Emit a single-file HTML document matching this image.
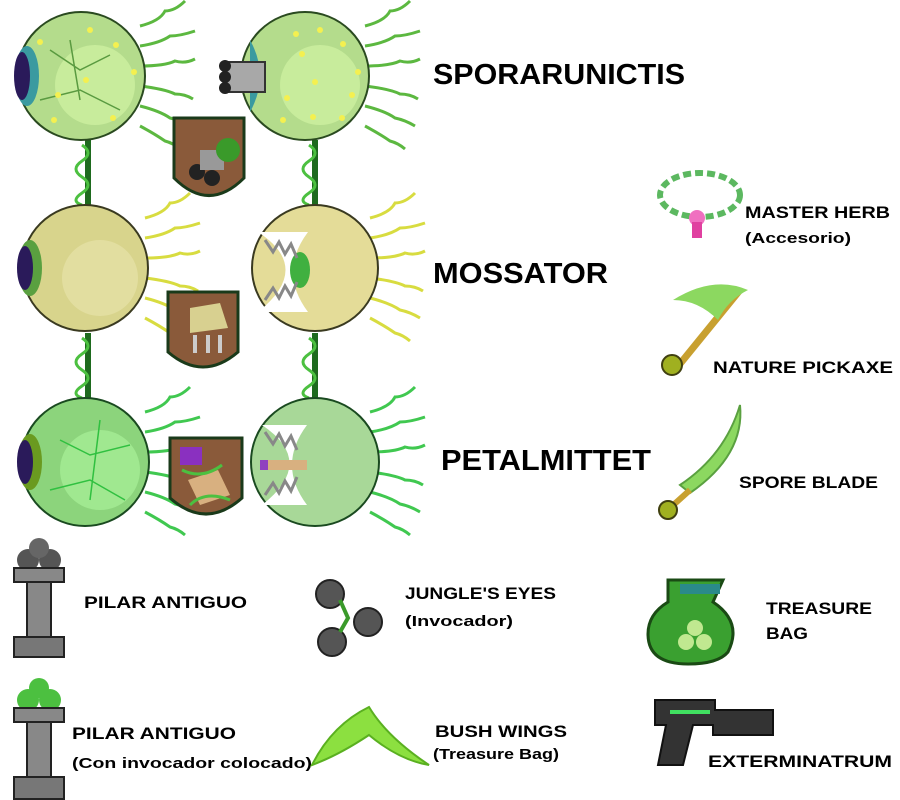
<!DOCTYPE html>
<html><head><meta charset="utf-8"><style>
body{margin:0;background:#fff;}
svg{display:block}
text{font-family:"Liberation Sans",sans-serif;font-weight:bold;fill:#000}
</style></head><body>
<svg width="900" height="800" viewBox="0 0 900 800" xmlns="http://www.w3.org/2000/svg">
<defs>
<g id="tend">
<path d="M0 -50 q20 -5 25 -15 q10 0 20 -10 M0 -30 q20 -3 30 -10 q10 0 25 -5 M0 -10 q25 0 35 -5 q10 3 20 -2 M0 10 q25 3 35 8 q10 0 18 5 M0 30 q20 5 30 12 q10 2 20 8 M0 50 q15 8 25 15 q8 2 15 8" fill="none" stroke-width="3"/>
</g>
<g id="vine"><rect x="-3" y="0" width="6" height="65" fill="#1e6a1e"/><path d="M-6 5 q12 8 0 16 q-12 8 0 16 q12 8 0 16 q-12 8 0 12" stroke="#4cc040" stroke-width="3" fill="none"/></g>
</defs>

<use href="#vine" x="88" y="140"/><use href="#vine" x="315" y="140"/>
<use href="#vine" x="88" y="333"/><use href="#vine" x="315" y="333"/>

<!-- row1 -->
<use href="#tend" x="140" y="76" stroke="#5cb840"/>
<circle cx="81" cy="76" r="64" fill="#b4dc8c" stroke="#2a4a20" stroke-width="2"/>
<circle cx="95" cy="85" r="40" fill="#c8ec9c"/>
<ellipse cx="27" cy="76" rx="12" ry="30" fill="#3a9aa0"/><ellipse cx="22" cy="76" rx="8" ry="24" fill="#2a1a5a"/>
<path d="M50 50 l30 20 l30 -15 M40 100 l40 -10 l40 20 M70 40 l10 60" stroke="#5a9a40" stroke-width="1.5" fill="none"/>
<use href="#tend" x="365" y="76" stroke="#5cb840"/>
<circle cx="305" cy="76" r="64" fill="#b4dc8c" stroke="#2a4a20" stroke-width="2"/>
<circle cx="320" cy="85" r="40" fill="#c8ec9c"/>
<path d="M250 40 q20 36 0 72 z" fill="#3a9aa0"/>
<rect x="225" y="62" width="40" height="30" fill="#a8a8a8" stroke="#333" stroke-width="2"/>
<circle cx="225" cy="66" r="6" fill="#222"/><circle cx="225" cy="77" r="6" fill="#222"/><circle cx="225" cy="88" r="6" fill="#222"/>
<g fill="#f4f050">
<circle cx="40" cy="42" r="3"/><circle cx="90" cy="30" r="3"/><circle cx="116" cy="45" r="3"/><circle cx="86" cy="80" r="3"/><circle cx="134" cy="72" r="3"/><circle cx="58" cy="95" r="3"/><circle cx="54" cy="120" r="3"/><circle cx="113" cy="118" r="3"/>
<circle cx="296" cy="34" r="3"/><circle cx="320" cy="30" r="3"/><circle cx="343" cy="44" r="3"/><circle cx="302" cy="54" r="3"/><circle cx="315" cy="82" r="3"/><circle cx="358" cy="72" r="3"/><circle cx="287" cy="98" r="3"/><circle cx="352" cy="95" r="3"/><circle cx="283" cy="120" r="3"/><circle cx="313" cy="117" r="3"/><circle cx="342" cy="118" r="3"/>
</g>

<!-- row2 -->
<use href="#tend" x="145" y="268" stroke="#d8dc40"/>
<circle cx="85" cy="268" r="63" fill="#d8d48c" stroke="#3a3a20" stroke-width="2"/>
<circle cx="100" cy="278" r="38" fill="#e2dea0"/>
<ellipse cx="30" cy="268" rx="12" ry="28" fill="#5aa040"/><ellipse cx="25" cy="268" rx="8" ry="22" fill="#2a1a5a"/>
<use href="#tend" x="370" y="268" stroke="#d8dc40"/>
<circle cx="315" cy="268" r="63" fill="#e4dc98" stroke="#3a3a20" stroke-width="2"/>
<path d="M258 232 q55 36 0 80 l50 0 q-30 -40 0 -80 z" fill="#fff"/>
<ellipse cx="300" cy="270" rx="10" ry="18" fill="#40b040"/>
<path d="M265 240 l8 12 l6 -10 l6 12 l6 -10 l6 14 M265 300 l8 -12 l6 10 l6 -12 l6 10 l6 -14" stroke="#888" stroke-width="3" fill="none"/>

<!-- row3 -->
<use href="#tend" x="145" y="462" stroke="#40c850"/>
<circle cx="85" cy="462" r="64" fill="#8cd47c" stroke="#1a4a20" stroke-width="2"/>
<circle cx="100" cy="470" r="40" fill="#a0e890"/>
<path d="M60 440 l30 15 l40 -10 M50 490 l40 -10 l35 20 M100 420 l-10 80" stroke="#30c040" stroke-width="1.5" fill="none"/>
<ellipse cx="30" cy="462" rx="12" ry="28" fill="#6a9a20"/><ellipse cx="25" cy="462" rx="8" ry="22" fill="#2a1a5a"/>
<use href="#tend" x="370" y="462" stroke="#40c850"/>
<circle cx="315" cy="462" r="64" fill="#a8d898" stroke="#1a4a20" stroke-width="2"/>
<path d="M262 425 q55 37 0 80 l45 0 q-30 -40 0 -80 z" fill="#fff"/>
<rect x="265" y="460" width="42" height="10" fill="#d8b080"/><rect x="260" y="460" width="8" height="10" fill="#9040c0"/>
<path d="M265 432 l8 12 l6 -10 l6 12 l6 -10 l6 14 M265 495 l8 -12 l6 10 l6 -12 l6 10 l6 -14" stroke="#888" stroke-width="3" fill="none"/>

<!-- shields -->
<g stroke="#1a3a1a" stroke-width="3">
<path d="M174 118 h70 v60 q-35 35 -70 0 z" fill="#8a5a3a"/>
<path d="M168 292 h70 v60 q-35 30 -70 0 z" fill="#8a5a3a"/>
<path d="M170 438 h72 v60 q-36 32 -72 0 z" fill="#8a5a3a"/>
</g>
<circle cx="197" cy="172" r="8" fill="#222"/><circle cx="212" cy="178" r="8" fill="#222"/><rect x="200" y="150" width="24" height="20" fill="#999"/><circle cx="228" cy="150" r="12" fill="#3a9a2a"/>
<path d="M190 308 l30 -5 l8 25 l-38 5 z" fill="#d8d090"/><path d="M195 335 v18 M208 335 v18 M220 335 v18" stroke="#ccc" stroke-width="4"/>
<rect x="180" y="447" width="22" height="18" fill="#8a30c0"/><path d="M188 480 l30 -10 l12 25 l-30 10 z" fill="#d8b080"/><path d="M182 470 q20 10 40 -5 M190 505 q15 -15 40 -5" stroke="#4cc040" stroke-width="3" fill="none"/>

<text x="433" y="84" font-size="29" textLength="252" lengthAdjust="spacingAndGlyphs">SPORARUNICTIS</text>
<text x="433" y="283" font-size="29" textLength="175" lengthAdjust="spacingAndGlyphs">MOSSATOR</text>
<text x="441" y="470" font-size="29" textLength="210" lengthAdjust="spacingAndGlyphs">PETALMITTET</text>

<ellipse cx="700" cy="195" rx="40" ry="22" fill="none" stroke="#5cb860" stroke-width="6" stroke-dasharray="8 4"/>
<circle cx="697" cy="218" r="8" fill="#f070c0"/><rect x="692" y="222" width="10" height="16" fill="#e040a0"/>
<text x="745" y="218" font-size="17" textLength="145" lengthAdjust="spacingAndGlyphs">MASTER HERB</text>
<text x="745" y="243" font-size="15" textLength="106" lengthAdjust="spacingAndGlyphs">(Accesorio)</text>

<path d="M740 290 l-65 80" stroke="#c8a030" stroke-width="7"/>
<path d="M673 300 q40 -25 75 -10 q-20 10 -30 30 q-20 -20 -45 -20 z" fill="#8cd860"/>
<circle cx="672" cy="365" r="10" fill="#a0b020" stroke="#404010" stroke-width="2"/>
<text x="713" y="373" font-size="17" textLength="180" lengthAdjust="spacingAndGlyphs">NATURE PICKAXE</text>

<path d="M740 405 q5 50 -50 88 l-10 -8 q45 -30 60 -80 z" fill="#8cd860" stroke="#5aa040" stroke-width="2"/>
<path d="M690 490 l-20 18" stroke="#c8a030" stroke-width="6"/>
<circle cx="668" cy="510" r="9" fill="#a0b020" stroke="#404010" stroke-width="2"/>
<text x="739" y="488" font-size="17" textLength="139" lengthAdjust="spacingAndGlyphs">SPORE BLADE</text>

<circle cx="28" cy="560" r="11" fill="#555"/><circle cx="50" cy="560" r="11" fill="#555"/><circle cx="39" cy="548" r="10" fill="#666"/>
<rect x="14" y="568" width="50" height="14" fill="#888" stroke="#222" stroke-width="2"/>
<rect x="27" y="582" width="24" height="55" fill="#888" stroke="#222" stroke-width="2"/>
<rect x="14" y="637" width="50" height="20" fill="#777" stroke="#222" stroke-width="2"/>
<text x="84" y="608" font-size="17" textLength="163" lengthAdjust="spacingAndGlyphs">PILAR ANTIGUO</text>

<circle cx="330" cy="594" r="14" fill="#555" stroke="#222" stroke-width="2"/>
<circle cx="368" cy="622" r="14" fill="#555" stroke="#222" stroke-width="2"/>
<circle cx="332" cy="642" r="14" fill="#555" stroke="#222" stroke-width="2"/>
<path d="M340 600 l8 18 l-8 14" stroke="#3a9a2a" stroke-width="4" fill="none"/>
<text x="405" y="599" font-size="17" textLength="151" lengthAdjust="spacingAndGlyphs">JUNGLE'S EYES</text>
<text x="405" y="626" font-size="15" textLength="108" lengthAdjust="spacingAndGlyphs">(Invocador)</text>

<path d="M668 580 h55 l-10 22 q30 20 15 50 q-10 12 -40 12 q-40 0 -40 -30 q0 -20 20 -32 z" fill="#3aa030" stroke="#1a4a14" stroke-width="3"/>
<rect x="680" y="584" width="40" height="10" fill="#2a8a8a"/>
<circle cx="686" cy="642" r="8" fill="#c0e890"/><circle cx="704" cy="642" r="8" fill="#c0e890"/><circle cx="695" cy="628" r="8" fill="#c0e890"/>
<text x="766" y="614" font-size="17" textLength="106" lengthAdjust="spacingAndGlyphs">TREASURE</text>
<text x="766" y="639" font-size="17" textLength="42" lengthAdjust="spacingAndGlyphs">BAG</text>

<circle cx="28" cy="700" r="11" fill="#4cc040"/><circle cx="50" cy="700" r="11" fill="#4cc040"/><circle cx="39" cy="688" r="10" fill="#4cc040"/>
<rect x="14" y="708" width="50" height="14" fill="#888" stroke="#222" stroke-width="2"/>
<rect x="27" y="722" width="24" height="55" fill="#888" stroke="#222" stroke-width="2"/>
<rect x="14" y="777" width="50" height="22" fill="#777" stroke="#222" stroke-width="2"/>
<text x="72" y="739" font-size="17" textLength="164" lengthAdjust="spacingAndGlyphs">PILAR ANTIGUO</text>
<text x="72" y="768" font-size="15" textLength="240" lengthAdjust="spacingAndGlyphs">(Con invocador colocado)</text>

<path d="M312 765 q20 -40 57 -58 q18 30 60 58 q-30 -5 -60 -30 q-30 20 -57 30 z" fill="#8ce040" stroke="#5ab020" stroke-width="2"/>
<text x="435" y="737" font-size="17" textLength="132" lengthAdjust="spacingAndGlyphs">BUSH WINGS</text>
<text x="433" y="759" font-size="15" textLength="126" lengthAdjust="spacingAndGlyphs">(Treasure Bag)</text>

<path d="M655 700 h60 v10 h58 v25 h-60 v-10 h-20 l-10 40 h-25 l8 -40 h-11 z" fill="#333" stroke="#111" stroke-width="2"/>
<path d="M670 712 h40" stroke="#40e060" stroke-width="4"/>
<text x="708" y="767" font-size="17" textLength="184" lengthAdjust="spacingAndGlyphs">EXTERMINATRUM</text>
</svg>
</body></html>
